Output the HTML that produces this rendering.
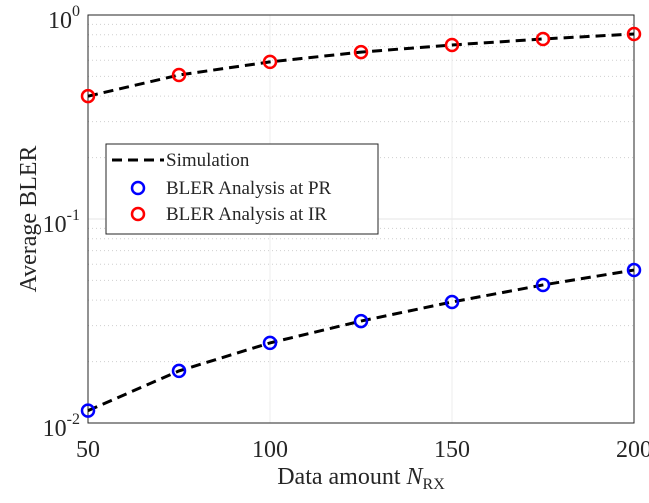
<!DOCTYPE html>
<html><head><meta charset="utf-8"><style>
body{margin:0;background:#fff;}
text{font-family:"Liberation Serif",serif;fill:#262626;}
</style></head><body>
<svg id="chart" width="649" height="498"></svg>
<script>
const xTicks=[50,100,150,200];
const xValues=[50,75,100,125,150,175,200];
const simIR=[0.40,0.508,0.589,0.658,0.713,0.763,0.807];
const anaIR=[0.40,0.508,0.589,0.658,0.713,0.763,0.807];
const simPR=[0.0115,0.018,0.0247,0.0316,0.0392,0.0475,0.0562];
const anaPR=[0.0115,0.018,0.0247,0.0316,0.0392,0.0475,0.0562];
const L=88,R=634,T=15,B=423;
const NS='http://www.w3.org/2000/svg';
const svg=document.getElementById('chart');
function X(v){return L+(v-50)/150*(R-L);}
function Y(v){return B-(Math.log10(v)+2)/2*(B-T);}
function mk(tag,attrs,parent){const e=document.createElementNS(NS,tag);for(const k in attrs)e.setAttribute(k,attrs[k]);(parent||svg).appendChild(e);return e;}
for(let d=-2;d<0;d++){for(let m=1;m<10;m++){const v=m*Math.pow(10,d);if(m>1){const g=mk('line',{x1:L,x2:R,y1:Y(v),y2:Y(v),stroke:'#cfcfcf','stroke-dasharray':'1,3','stroke-width':1});

}}}
[0.1].forEach(v=>{const g=mk('line',{x1:L,x2:R,y1:Y(v),y2:Y(v),stroke:'#e6e6e6'});

});
xTicks.forEach(v=>{if(v>50&&v<200){const g=mk('line',{x1:X(v),x2:X(v),y1:T,y2:B,stroke:'#ececec'});

}});
const box=mk('rect',{x:L,y:T,width:R-L,height:B-T,fill:'none',stroke:'#262626','stroke-width':1});


xTicks.forEach(v=>{const t=mk('text',{x:X(v),y:B+34,'font-size':24,'text-anchor':'middle'});t.textContent=v;

});
[[-2,B],[-1,Y(0.1)],[0,T]].forEach(([e,y])=>{const t=mk('text',{x:L-8,y:y+13,'font-size':24,'text-anchor':'end'});t.innerHTML='10<tspan dy="-12" font-size="16">'+e+'</tspan>';

});
function line(arr,name){const p=mk('polyline',{points:xValues.map((x,i)=>X(x)+','+Y(arr[i])).join(' '),fill:'none',stroke:'#000','stroke-width':3,'stroke-dasharray':'10,6'});

}
line(simIR,'simulation-line-ir');line(simPR,'simulation-line-pr');
function marks(arr,col,name){xValues.forEach((x,i)=>{const c=mk('circle',{cx:X(x),cy:Y(arr[i]),r:6,fill:'none',stroke:col,'stroke-width':2.5});

});}
marks(anaIR,'#ff0000','ir-marker');marks(anaPR,'#0000ff','pr-marker');
const lg=mk('g',{});


mk('rect',{x:106,y:144,width:272,height:90,fill:'#fff',stroke:'#262626'},lg);
mk('line',{x1:112,x2:164,y1:160,y2:160,stroke:'#000','stroke-width':3,'stroke-dasharray':'10,6'},lg);
mk('circle',{cx:138,cy:188,r:6,fill:'none',stroke:'#0000ff','stroke-width':2.5},lg);
mk('circle',{cx:138,cy:214,r:6,fill:'none',stroke:'#ff0000','stroke-width':2.5},lg);
[['Simulation',166],['BLER Analysis at PR',194],['BLER Analysis at IR',220]].forEach(([s,y])=>{const t=mk('text',{x:166,y:y,'font-size':19},lg);t.textContent=s;

});
const xt=mk('text',{x:(L+R)/2,y:484,'font-size':24,'text-anchor':'middle'});
xt.innerHTML='Data amount <tspan font-style="italic">N</tspan><tspan dy="5" font-size="16">RX</tspan>';


const yt=mk('text',{x:0,y:0,'font-size':24,'text-anchor':'middle',transform:'translate(36,'+(T+B)/2+') rotate(-90)'});
yt.textContent='Average BLER';


</script>
</body></html>
